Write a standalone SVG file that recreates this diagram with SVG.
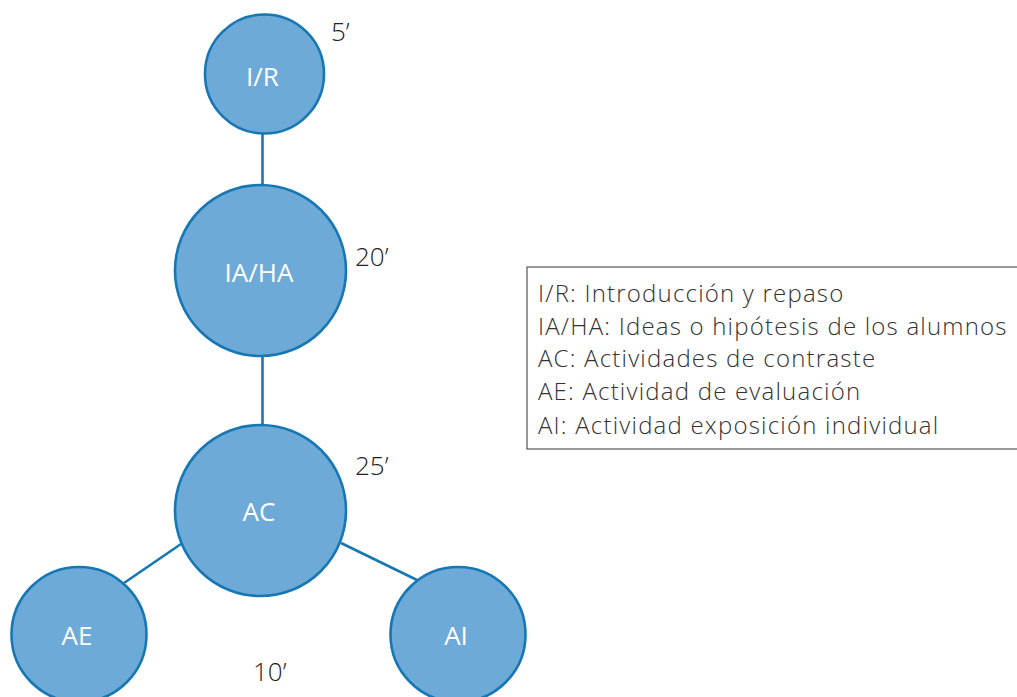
<svg xmlns="http://www.w3.org/2000/svg" width="1017" height="697" viewBox="0 0 1017 697">
<style>
.node{fill:#6eaad8;stroke:#1677b4;stroke-width:2.6}
.lbl{font-family:"Open Sans","Noto Sans",sans-serif;font-size:26px;fill:#ffffff;text-anchor:middle}
.num{font-family:"Open Sans","Noto Sans",sans-serif;font-size:26px;font-weight:300;fill:#222222}
.conn{stroke:#1677b4;stroke-width:2.6;fill:none}
.leg{font-family:"Open Sans","Noto Sans",sans-serif;font-size:24px;font-weight:300;fill:#333333;letter-spacing:1.2px}
</style>
<rect width="1017" height="697" fill="#ffffff"/>
<g id="connectors">
<line class="conn" x1="262.5" y1="134" x2="262.5" y2="185"/>
<line class="conn" x1="262.5" y1="356" x2="262.5" y2="425"/>
<line class="conn" x1="181" y1="544" x2="124" y2="583"/>
<line class="conn" x1="341" y1="543" x2="417" y2="580"/>
</g>
<g id="node-IR">
<circle class="node" cx="264.5" cy="74" r="59.5"/>
<text class="lbl" x="262.5" y="86">I/R</text>
</g>
<g id="node-IAHA">
<circle class="node" cx="260.5" cy="270.5" r="85.5"/>
<text class="lbl" x="259" y="282">IA/HA</text>
</g>
<g id="node-AC">
<circle class="node" cx="260.5" cy="510.5" r="85.5"/>
<text class="lbl" x="259" y="521">AC</text>
</g>
<g id="node-AE">
<circle class="node" cx="79" cy="634.5" r="67.5"/>
<text class="lbl" x="77" y="645">AE</text>
</g>
<g id="node-AI">
<circle class="node" cx="458" cy="634.5" r="67.5"/>
<text class="lbl" x="456" y="645">AI</text>
</g>
<g id="times">
<text class="num" x="331" y="41">5’</text>
<text class="num" x="355" y="266">20’</text>
<text class="num" x="355" y="475">25’</text>
<text class="num" x="253" y="681">10’</text>
</g>
<g id="legend">
<rect x="527" y="267" width="500" height="182" fill="none" stroke="#555555" stroke-width="1.2"/>
<text class="leg" x="538" y="301.5">I/R: Introducción y repaso</text>
<text class="leg" x="538" y="334.5">IA/HA: Ideas o hipótesis de los alumnos</text>
<text class="leg" x="538" y="367">AC: Actividades de contraste</text>
<text class="leg" x="538" y="400">AE: Actividad de evaluación</text>
<text class="leg" x="538" y="434">AI: Actividad exposición individual</text>
</g>
</svg>
